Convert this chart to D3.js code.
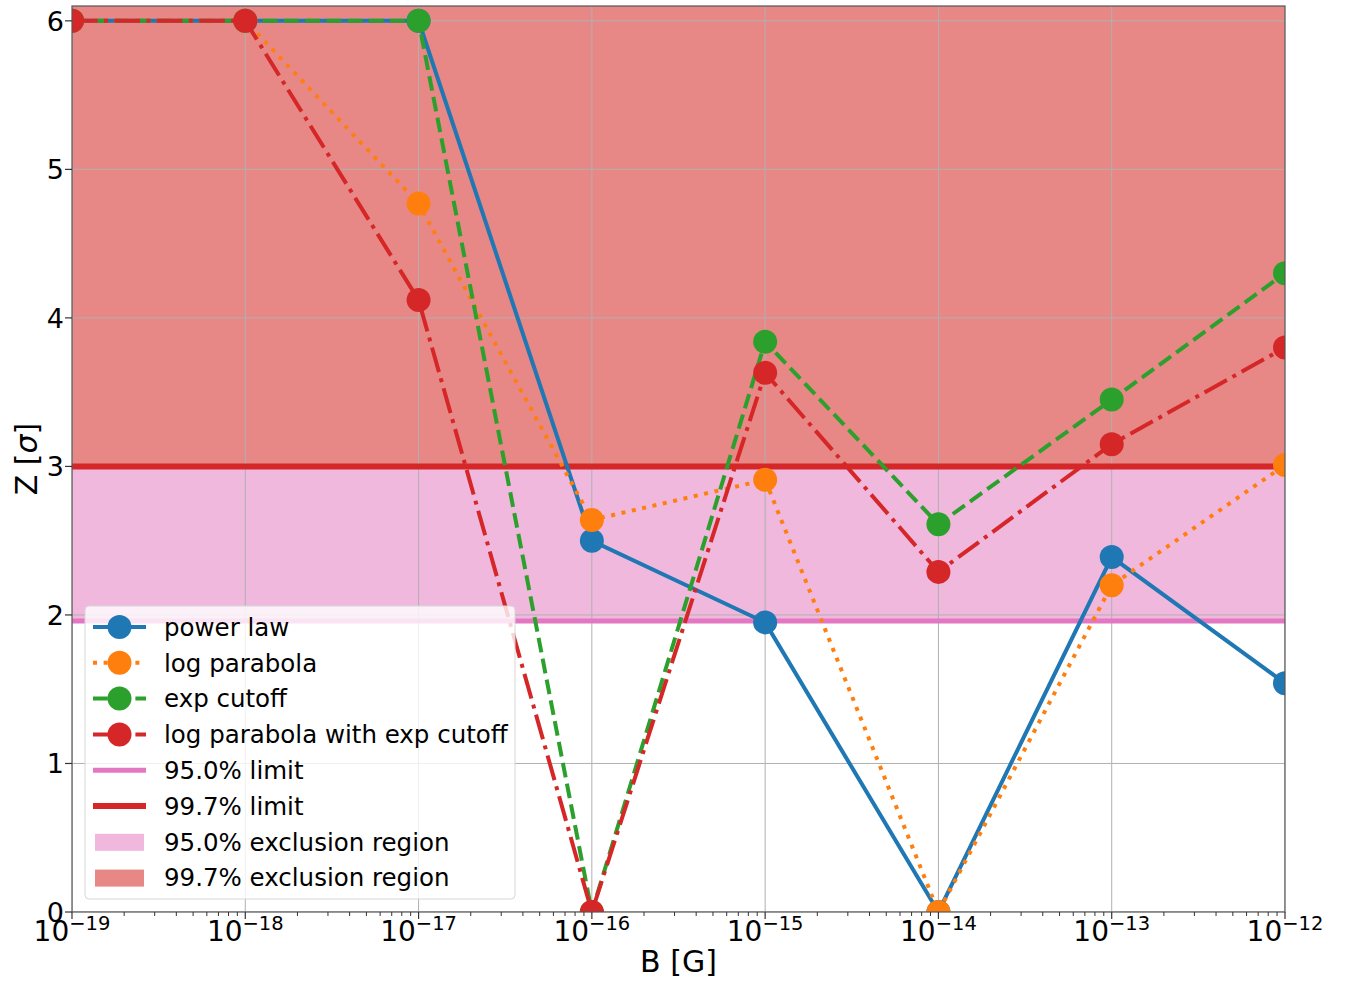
<!DOCTYPE html>
<html>
<head>
<meta charset="utf-8">
<script src="https://cdn.jsdelivr.net/npm/d3@7"></script>
<style>
body { margin: 0; background: #fff; }
svg { font-family: "DejaVu Sans", sans-serif; }
</style>
</head>
<body>
<div class="chart"></div>
<script>
// field strengths (log10 of B in gauss)
var bExp = [-19, -18, -17, -16, -15, -14, -13, -12];
var powerLaw = [6, 6, 6, 2.5, 1.95, 0, 2.39, 1.54];
var logParabola = [6, 6, 4.77, 2.64, 2.91, 0, 2.2, 3.01];
var expCutoff = [6, 6, 6, 0, 3.84, 2.61, 3.45, 4.3];
var logParExpCutoff = [6, 6, 4.12, 0, 3.63, 2.29, 3.15, 3.8];
var seriesNames = ["power law", "log parabola", "exp cutoff", "log parabola with exp cutoff"];
var limit95 = 1.96;
var limit997 = 3.0;
var yTicks = [0, 1, 2, 3, 4, 5, 6];

var W = 1346, H = 983;
var pLeft = 72, pTop = 6, pRight = 1285, pBottom = 912;

var svg = d3.select(".chart").append("svg").attr("width", W).attr("height", H);

var x = d3.scaleLog().domain([1e-19, 1e-12]).range([pLeft, pRight]);
var y = d3.scaleLinear().domain([0, 6.1]).range([pBottom, pTop]);

svg.append("clipPath").attr("id", "plotclip").append("rect")
    .attr("x", pLeft).attr("y", pTop).attr("width", pRight - pLeft).attr("height", pBottom - pTop);

var plot = svg.append("g").attr("clip-path", "url(#plotclip)");

// exclusion regions
plot.append("rect").attr("x", pLeft).attr("width", pRight - pLeft)
    .attr("y", y(6.1)).attr("height", y(limit95) - y(6.1)).attr("fill", "#f0b8dd");
plot.append("rect").attr("x", pLeft).attr("width", pRight - pLeft)
    .attr("y", y(6.1)).attr("height", y(limit997) - y(6.1)).attr("fill", "#e78886");

// grid
var xMajor = bExp.map(function(e) { return Math.pow(10, e); });
plot.selectAll(".gx").data(xMajor).enter().append("line")
    .attr("x1", function(d) { return x(d); }).attr("x2", function(d) { return x(d); })
    .attr("y1", pTop).attr("y2", pBottom).attr("stroke", "#b0b0b0").attr("stroke-width", 1);
plot.selectAll(".gy").data(yTicks).enter().append("line")
    .attr("x1", pLeft).attr("x2", pRight)
    .attr("y1", function(d) { return y(d); }).attr("y2", function(d) { return y(d); })
    .attr("stroke", "#b0b0b0").attr("stroke-width", 1);

// limit lines
plot.append("line").attr("x1", pLeft).attr("x2", pRight).attr("y1", y(limit95)).attr("y2", y(limit95))
    .attr("stroke", "#e377c2").attr("stroke-width", 5);
plot.append("line").attr("x1", pLeft).attr("x2", pRight).attr("y1", y(limit997)).attr("y2", y(limit997))
    .attr("stroke", "#d62728").attr("stroke-width", 6);

var colors = ["#1f77b4", "#ff7f0e", "#2ca02c", "#d62728"];
var dashes = [null, "4,6.6", "14.8,6.4", "25.6,6.4,4,6.4"];
var allSeries = [powerLaw, logParabola, expCutoff, logParExpCutoff];

var line = d3.line()
    .x(function(d, i) { return x(Math.pow(10, bExp[i])); })
    .y(function(d) { return y(d); });

for (var s = 0; s < allSeries.length; s++) {
    plot.append("path").attr("d", line(allSeries[s])).attr("fill", "none")
        .attr("stroke", colors[s]).attr("stroke-width", 4)
        .attr("stroke-dasharray", dashes[s]);
    plot.selectAll(".m" + s).data(allSeries[s]).enter().append("circle")
        .attr("cx", function(d, i) { return x(Math.pow(10, bExp[i])); })
        .attr("cy", function(d) { return y(d); })
        .attr("r", 12).attr("fill", colors[s]);
}

// frame
svg.append("rect").attr("x", pLeft).attr("y", pTop).attr("width", pRight - pLeft).attr("height", pBottom - pTop)
    .attr("fill", "none").attr("stroke", "#555").attr("stroke-width", 1.2);

// x axis ticks
var xAxis = svg.append("g");
var minor = [];
for (var e = -19; e < -12; e++) {
    for (var k = 2; k < 10; k++) minor.push(k * Math.pow(10, e));
}
xAxis.selectAll(".mt").data(minor).enter().append("line")
    .attr("x1", function(d) { return x(d); }).attr("x2", function(d) { return x(d); })
    .attr("y1", pBottom).attr("y2", pBottom + 4).attr("stroke", "#333").attr("stroke-width", 1);
xAxis.selectAll(".Mt").data(xMajor).enter().append("line")
    .attr("x1", function(d) { return x(d); }).attr("x2", function(d) { return x(d); })
    .attr("y1", pBottom).attr("y2", pBottom + 7).attr("stroke", "#333").attr("stroke-width", 1.2);
var xl = xAxis.selectAll(".xl").data(bExp).enter().append("text")
    .attr("x", function(d) { return x(Math.pow(10, d)); })
    .attr("y", pBottom + 29)
    .attr("text-anchor", "middle")
    .attr("font-size", 28).attr("fill", "#000");
xl.append("tspan").text("10");
xl.append("tspan").attr("dy", -11).attr("font-size", 19.5).text(function(d) { return "\u2212" + (-d); });

// y axis ticks
var yAxis = svg.append("g");
yAxis.selectAll(".yt").data(yTicks).enter().append("line")
    .attr("x1", pLeft - 7).attr("x2", pLeft)
    .attr("y1", function(d) { return y(d); }).attr("y2", function(d) { return y(d); })
    .attr("stroke", "#333").attr("stroke-width", 1.2);
yAxis.selectAll(".yl").data(yTicks).enter().append("text")
    .attr("x", pLeft - 8).attr("y", function(d) { return y(d); })
    .attr("dy", "0.36em").attr("text-anchor", "end").attr("font-size", 27)
    .text(function(d) { return d; });

// axis labels
svg.append("text").attr("x", (pLeft + pRight) / 2).attr("y", 972).attr("text-anchor", "middle")
    .attr("font-size", 30).text("B [G]");
svg.append("text").attr("transform", "translate(37," + (pTop + pBottom) / 2 + ") rotate(-90)")
    .attr("text-anchor", "middle").attr("font-size", 30)
    .html("Z [<tspan font-style='italic'>\u03c3</tspan>]");

// legend
var lg = svg.append("g").attr("transform", "translate(85,606)");
lg.append("rect").attr("width", 430).attr("height", 293).attr("rx", 4)
    .attr("fill", "#fff").attr("fill-opacity", 0.8).attr("stroke", "#d6d6d6").attr("stroke-width", 1);
var rowY = function(i) { return 21 + i * 35.8; };
for (var s = 0; s < seriesNames.length; s++) {
    lg.append("line").attr("x1", 8).attr("x2", 61).attr("y1", rowY(s)).attr("y2", rowY(s))
        .attr("stroke", colors[s]).attr("stroke-width", 4).attr("stroke-dasharray", dashes[s]);
    lg.append("circle").attr("cx", 34.5).attr("cy", rowY(s)).attr("r", 12).attr("fill", colors[s]);
    lg.append("text").attr("x", 79).attr("y", rowY(s)).attr("dy", "0.36em").attr("font-size", 24.5).text(seriesNames[s]);
}
var extra = [
    { label: "95.0% limit", kind: "line", color: "#e377c2", w: 5 },
    { label: "99.7% limit", kind: "line", color: "#d62728", w: 6 },
    { label: "95.0% exclusion region", kind: "patch", color: "#f0b8dd" },
    { label: "99.7% exclusion region", kind: "patch", color: "#e78886" }
];
extra.forEach(function(d, j) {
    var yy = rowY(j + 4);
    if (d.kind == "line") {
        lg.append("line").attr("x1", 8).attr("x2", 61).attr("y1", yy).attr("y2", yy)
            .attr("stroke", d.color).attr("stroke-width", d.w);
    } else {
        lg.append("rect").attr("x", 10).attr("y", yy - 8).attr("width", 49).attr("height", 17).attr("fill", d.color);
    }
    lg.append("text").attr("x", 79).attr("y", yy).attr("dy", "0.36em").attr("font-size", 24.5).text(d.label);
});
</script>
</body>
</html>
